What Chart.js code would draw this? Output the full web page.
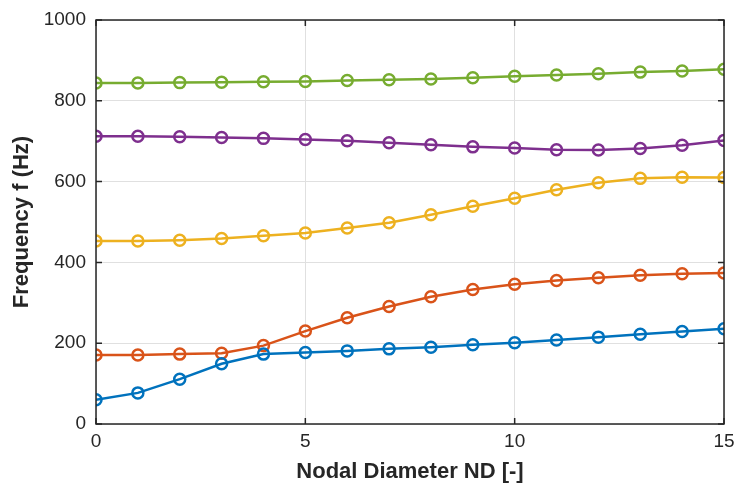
<!DOCTYPE html>
<html>
<head>
<meta charset="utf-8">
<script src="https://cdn.jsdelivr.net/npm/chart.js@4/dist/chart.umd.min.js"></script>
<style>
  html, body { margin: 0; padding: 0; background: #fff; }
  #wrap { width: 737px; height: 489px; position: relative; }
</style>
</head>
<body>
<div id="wrap"><canvas id="grafico"></canvas></div>
<script>
// --- DADOS ---
const nodalDiameter = [0, 1, 2, 3, 4, 5, 6, 7, 8, 9, 10, 11, 12, 13, 14, 15];

const modo1 = [60, 77, 111, 149, 173, 177, 181, 186, 190, 196, 201, 208, 215, 222, 229, 236];
const modo2 = [171, 171, 173, 175, 194, 230, 263, 291, 315, 333, 346, 355, 362, 368, 372, 374];
const modo3 = [453, 453, 455, 459, 466, 473, 485, 498, 518, 539, 559, 580, 597, 608, 611, 610];
const modo4 = [712, 712, 711, 709, 707, 704, 701, 696, 691, 686, 683, 679, 678, 682, 690, 702];
const modo5 = [844, 844, 845, 846, 847, 848, 850, 852, 854, 857, 861, 864, 867, 871, 874, 878];

const xTicks = [0, 5, 10, 15];
const yTicks = [0, 200, 400, 600, 800, 1000];

const CORES = ['#0072BD', '#D95319', '#EDB120', '#7E2F8E', '#77AC30'];
const FONTE = '"Liberation Sans", Arial, Helvetica, sans-serif';

function serie(valores, cor) {
    return {
        data: nodalDiameter.map((x, i) => ({ x: x, y: valores[i] })),
        borderColor: cor,
        backgroundColor: 'rgba(0,0,0,0)',
        borderWidth: 2.5,
        pointRadius: 5.5,
        pointBorderWidth: 2.5,
        pointBorderColor: cor,
        pointBackgroundColor: 'rgba(0,0,0,0)',
        tension: 0
    };
}

// caixa preta + ticks para dentro (estilo MATLAB)
const caixaPlugin = {
    id: 'caixa',
    afterDatasetsDraw(chart) {
        const { ctx, chartArea: a, scales } = chart;
        ctx.save();
        ctx.strokeStyle = '#262626';
        ctx.lineWidth = 1.5;
        ctx.beginPath();
        ctx.rect(a.left, a.top, a.right - a.left, a.bottom - a.top);
        ctx.stroke();
        const t = 6;
        ctx.beginPath();
        xTicks.forEach(v => {
            const px = scales.x.getPixelForValue(v);
            ctx.moveTo(px, a.bottom); ctx.lineTo(px, a.bottom - t);
            ctx.moveTo(px, a.top); ctx.lineTo(px, a.top + t);
        });
        yTicks.forEach(v => {
            const py = scales.y.getPixelForValue(v);
            ctx.moveTo(a.left, py); ctx.lineTo(a.left + t, py);
            ctx.moveTo(a.right, py); ctx.lineTo(a.right - t, py);
        });
        ctx.stroke();
        ctx.restore();
    }
};

new Chart(document.getElementById('grafico'), {
    type: 'line',
    data: {
        datasets: [
            serie(modo1, CORES[0]),
            serie(modo2, CORES[1]),
            serie(modo3, CORES[2]),
            serie(modo4, CORES[3]),
            serie(modo5, CORES[4])
        ]
    },
    options: {
        responsive: true,
        maintainAspectRatio: false,
        animation: false,
        layout: { padding: { top: 20, right: 13, left: 0, bottom: 0 } },
        plugins: {
            legend: { display: false },
            tooltip: { enabled: false }
        },
        scales: {
            x: {
                type: 'linear',
                min: 0,
                max: 15,
                afterBuildTicks: (s) => { s.ticks = xTicks.map(v => ({ value: v })); },
                afterFit: (s) => { s.height = 65; s.paddingRight = 0; s.paddingLeft = 0; },
                grid: { color: '#e0e0e0', drawTicks: false },
                border: { display: false },
                ticks: { color: '#262626', font: { family: FONTE, size: 19 }, padding: 6, maxRotation: 0 },
                title: {
                    display: true,
                    text: 'Nodal Diameter ND [-]',
                    color: '#262626',
                    font: { family: FONTE, size: 22, weight: 'bold' },
                    padding: { top: 0 }
                }
            },
            y: {
                min: 0,
                max: 1000,
                afterBuildTicks: (s) => { s.ticks = yTicks.map(v => ({ value: v })); },
                afterFit: (s) => { s.width = 96; s.paddingTop = 0; s.paddingBottom = 0; },
                grid: { color: '#e0e0e0', drawTicks: false },
                border: { display: false },
                ticks: {
                    color: '#262626',
                    font: { family: FONTE, size: 19 },
                    padding: 10,
                    callback: (v) => String(v)
                },
                title: {
                    display: true,
                    text: 'Frequency f (Hz)',
                    color: '#262626',
                    font: { family: FONTE, size: 22, weight: 'bold' },
                    padding: { top: 9, bottom: 0 }
                }
            }
        }
    },
    plugins: [caixaPlugin]
});
</script>
</body>
</html>
